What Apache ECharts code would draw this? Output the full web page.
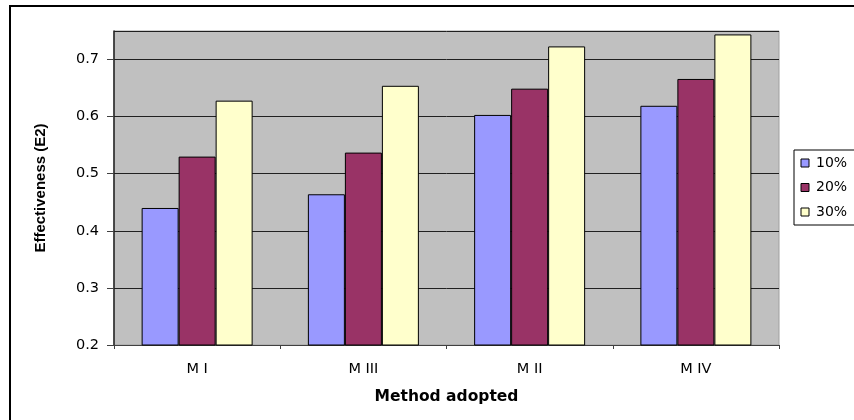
<!DOCTYPE html>
<html>
<head>
    <meta charset="utf-8">
    <title>Effectiveness</title>
    <script src="https://cdn.jsdelivr.net/npm/echarts@6/dist/echarts.min.js"></script>
    <style>
        html, body { margin: 0; padding: 0; background: #fff; }
        #chart { width: 854px; height: 420px; }
    </style>
</head>
<body>
<div id="chart"></div>
<script type="text/javascript">
    // data
    var methods = ['M I', 'M III', 'M II', 'M IV'];
    var seriesNames = ['10%', '20%', '30%'];
    var v10 = [0.44, 0.464, 0.603, 0.619];
    var v20 = [0.53, 0.537, 0.649, 0.666];
    var v30 = [0.628, 0.654, 0.723, 0.744];
    var colors = ['#9999FF', '#993366', '#FFFFCC'];

    var myChart = echarts.init(document.getElementById('chart'));
    var wide = '"DejaVu Sans", Verdana, sans-serif';
    var arial = 'Arial, "Liberation Sans", sans-serif';

    function bar(i, vals) {
        return {
            name: seriesNames[i],
            type: 'bar',
            barWidth: 37,
            barGap: '0%',
            data: vals,
            itemStyle: { color: colors[i], borderColor: '#000', borderWidth: 1 }
        };
    }

    myChart.setOption({
        animation: false,
        textStyle: { fontFamily: wide },
        // outer frame, only its left and top edges fall inside the picture
        graphic: [{
            type: 'rect', z: -10,
            shape: { x: 10, y: 6, width: 860, height: 430 },
            style: { fill: 'none', stroke: '#000', lineWidth: 2 }
        }],
        grid: {
            left: 114, top: 31, right: 75, bottom: 75,
            show: true, backgroundColor: '#C0C0C0', borderColor: '#A0A0A0', borderWidth: 1
        },
        legend: {
            orient: 'vertical',
            left: 794, top: 150,
            itemWidth: 8, itemHeight: 8, itemGap: 10.5,
            padding: [6, 20, 6, 6.5],
            borderColor: '#000', borderWidth: 1,
            backgroundColor: '#fff',
            icon: 'rect',
            textStyle: { fontSize: 14, lineHeight: 14, color: '#000', fontFamily: wide, padding: [0, 0, 0, 2] },
            itemStyle: { borderColor: '#000', borderWidth: 1 },
            data: seriesNames
        },
        xAxis: {
            type: 'category',
            data: methods,
            name: 'Method adopted',
            nameLocation: 'middle',
            nameGap: 44,
            nameTextStyle: { fontSize: 15.5, fontWeight: 'bold', color: '#000', fontFamily: wide },
            axisLine: { lineStyle: { color: '#404040', width: 1 } },
            axisTick: { show: true, length: 4, lineStyle: { color: '#404040' } },
            axisLabel: { fontSize: 14.5, color: '#000', margin: 17, fontFamily: wide }
        },
        yAxis: {
            type: 'value',
            min: 0.2, max: 0.75, interval: 0.1,
            name: 'Effectiveness (E2)',
            nameLocation: 'middle',
            nameGap: 66,
            nameRotate: 90,
            nameTextStyle: { fontSize: 15, fontWeight: 'bold', color: '#000', fontFamily: arial },
            axisLine: { show: true, lineStyle: { color: '#202020', width: 1.5 } },
            axisTick: { show: true, length: 7, lineStyle: { color: '#404040' } },
            axisLabel: {
                fontSize: 14.5, color: '#000', margin: 15, fontFamily: wide,
                showMaxLabel: false,
                formatter: function (v) { return v.toFixed(1); }
            },
            splitLine: { show: true, lineStyle: { color: '#202020', width: 1 } }
        },
        series: [bar(0, v10), bar(1, v20), bar(2, v30)]
    });
</script>
</body>
</html>
